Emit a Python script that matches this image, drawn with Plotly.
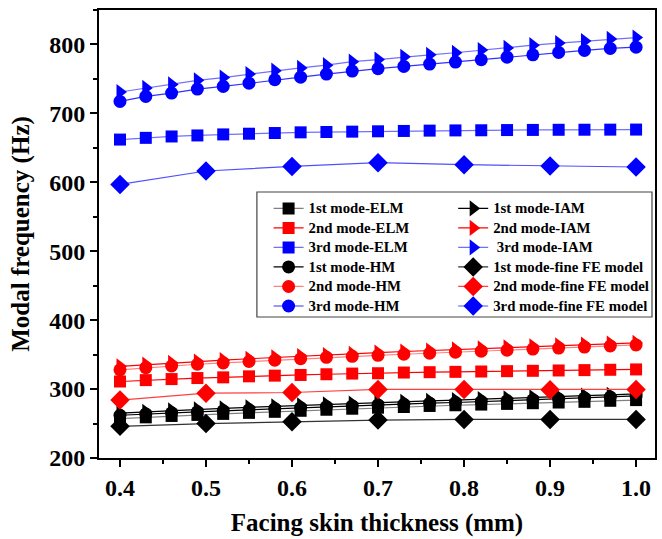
import plotly.graph_objects as go

x_fine = [0.40, 0.43, 0.46, 0.49, 0.52, 0.55, 0.58, 0.61, 0.64, 0.67, 0.70,
          0.73, 0.76, 0.79, 0.82, 0.85, 0.88, 0.91, 0.94, 0.97, 1.00]
x_fe = [0.4, 0.5, 0.6, 0.7, 0.8, 0.9, 1.0]

elm1 = [257, 259, 261, 262.5, 264, 265.5, 267, 268.5, 270, 271.5, 273,
        274, 275.5, 276.5, 277.5, 278.5, 279.5, 280.5, 281.5, 283, 284]
elm2 = [311, 313, 314.5, 316, 317, 318.5, 319.5, 320.5, 321.5, 322.5, 323,
        324, 324.5, 325, 325.5, 326, 326.5, 327, 327.5, 328, 328.5]
elm3 = [662, 664.5, 666.5, 668, 669.5, 670.5, 671.5, 672.5, 673, 673.5, 674,
        674.5, 675, 675.3, 675.5, 675.8, 676, 676.2, 676.3, 676.4, 676.5]

iam1 = [265, 267, 269, 270.5, 272, 273.5, 275, 276.5, 278, 279, 280.5,
        281.5, 283, 284, 285.5, 286.5, 288, 289, 290.5, 291.5, 293]
iam2 = [333, 335.5, 338, 340, 342, 344, 346, 348, 349.5, 351, 353,
        354.5, 356, 357.5, 359, 360.5, 362, 363.5, 364.5, 366, 367]
iam3 = [731, 737, 742, 748, 752, 757, 762, 766, 770, 775, 778,
        782, 785, 788, 792, 795, 799, 802, 805, 808, 810]

hm1 = [262, 264, 265.5, 267, 268.5, 270, 271.5, 273, 274.5, 275.5, 277,
       278, 279.5, 280.5, 282, 283, 284.5, 285.5, 287, 288.5, 290]
hm2 = [328, 331, 333.5, 336, 338, 340, 342, 344, 346, 347.5, 349,
       350.5, 352, 353.5, 355, 356.5, 358, 359.5, 361, 362.5, 364]
hm3 = [717.4, 724.6, 729.4, 735.3, 739.1, 743.9, 748.8, 752.6, 757, 761.4, 764.8,
       768.1, 771.5, 774.4, 777.8, 781.6, 785, 788.4, 791.3, 794.2, 796]

fe1 = [246, 250, 252.5, 255, 256, 256, 256]
fe2 = [284, 294, 295, 299.5, 299.5, 299, 299.5]
fe3 = [597, 616.4, 623, 628.5, 625.6, 623.7, 622.2]

FONT = "Liberation Serif"

fig = go.Figure()

def add(name, xs, ys, line_color, marker_color, symbol, size, legend):
    fig.add_trace(go.Scatter(
        x=xs, y=ys, mode="lines+markers",
        name="<span style='font-size:14.8px'>" + name + "</span>",
        line=dict(color=line_color, width=1.2),
        marker=dict(color=marker_color, symbol=symbol, size=size),
        legend=legend,
    ))

# column 1
add("1st mode-ELM", x_fine, elm1, "#808080", "#000000", "square", 12, "legend")
add("2nd mode-ELM", x_fine, elm2, "#ff0000", "#ff0000", "square", 12, "legend")
add("3rd mode-ELM", x_fine, elm3, "#7070ff", "#0000ff", "square", 12, "legend")
# column 2
add("1st mode-IAM", x_fine, iam1, "#000000", "#000000", "triangle-right", 14, "legend2")
add("2nd mode-IAM", x_fine, iam2, "#ff0000", "#ff0000", "triangle-right", 14, "legend2")
add(" 3rd mode-IAM", x_fine, iam3, "#7070ff", "#0000ff", "triangle-right", 14, "legend2")
# column 1
add("1st mode-HM", x_fine, hm1, "#000000", "#000000", "circle", 13, "legend")
add("2nd mode-HM", x_fine, hm2, "#ff8080", "#ff0000", "circle", 13, "legend")
add("3rd mode-HM", x_fine, hm3, "#3030ff", "#0000ff", "circle", 13, "legend")
# column 2
add("1st mode-fine FE model", x_fe, fe1, "#333333", "#000000", "diamond", 15, "legend2")
add("2nd mode-fine FE model", x_fe, fe2, "#ff4040", "#ff0000", "diamond", 15, "legend2")
add("3rd mode-fine FE model", x_fe, fe3, "#5050ff", "#0000ff", "diamond", 15, "legend2")

axis_common = dict(
    showline=True, linecolor="#000000", linewidth=2, mirror=True,
    ticks="outside", ticklen=7, tickwidth=2, tickcolor="#000000",
    showgrid=False, zeroline=False, automargin=False,
    tickfont=dict(family=FONT, size=24, color="#000000", weight="bold"),
)

leg_common = dict(
    font=dict(family=FONT, size=12.7, color="#000000", weight="bold"),
    bgcolor="rgba(0,0,0,0)", borderwidth=0, tracegroupgap=0,
    xanchor="left", yanchor="top",
)

fig.update_layout(
    width=662, height=539,
    margin=dict(l=99, r=7, t=10, b=81, autoexpand=False),
    plot_bgcolor="#ffffff", paper_bgcolor="#ffffff",
    xaxis=dict(
        range=[0.3756, 1.022], tickvals=[0.4, 0.5, 0.6, 0.7, 0.8, 0.9, 1.0],
        ticktext=["0.4", "0.5", "0.6", "0.7", "0.8", "0.9", "1.0"],
        minor=dict(dtick=0.05, tick0=0.4, ticks="outside", ticklen=4,
                   tickwidth=2, tickcolor="#000000"),
        title=dict(text="Facing skin thickness (mm)", standoff=14,
                   font=dict(family=FONT, size=25, color="#000000", weight="bold")),
        **axis_common,
    ),
    yaxis=dict(
        range=[200, 850], tickvals=[200, 300, 400, 500, 600, 700, 800],
        minor=dict(dtick=50, tick0=200, ticks="outside", ticklen=4,
                   tickwidth=2, tickcolor="#000000"),
        title=dict(text="Modal frequency (Hz)", standoff=12,
                   font=dict(family=FONT, size=25, color="#000000", weight="bold")),
        **axis_common,
    ),
    legend=dict(x=0.305, y=0.590, **leg_common),
    legend2=dict(x=0.637, y=0.590, **leg_common),
    shapes=[dict(type="rect", xref="paper", yref="paper",
                 x0=0.284, x1=0.9946, y0=0.3147, y1=0.5938,
                 line=dict(color="#444444", width=1.2), fillcolor="rgba(0,0,0,0)")],
)

fig.write_html("out.html")
